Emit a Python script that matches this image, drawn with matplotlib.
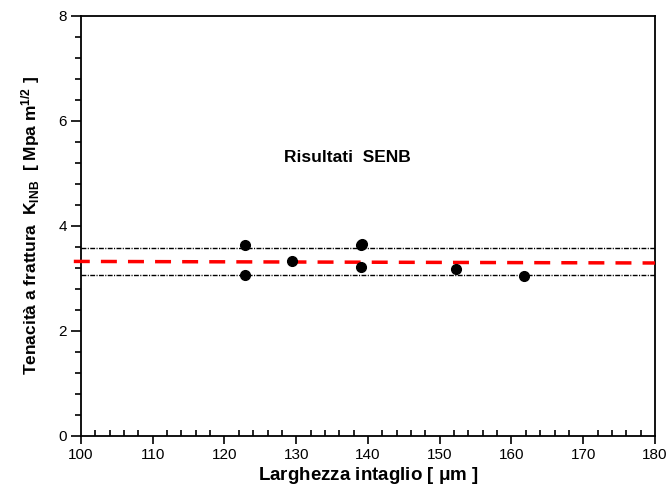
import matplotlib
matplotlib.use("Agg")
import matplotlib.pyplot as plt
from matplotlib.ticker import MultipleLocator

plt.rcParams["font.family"] = ["Liberation Sans", "DejaVu Sans"]
plt.rcParams["mathtext.fontset"] = "custom"
plt.rcParams["mathtext.rm"] = "Liberation Sans:bold"
plt.rcParams["mathtext.bf"] = "Liberation Sans:bold"
plt.rcParams["mathtext.default"] = "bf"

# notch width [um] vs fracture toughness [MPa m^1/2]
notch_width = [122.8, 122.8, 129.4, 139.0, 139.2, 139.0, 152.2, 161.7]
toughness = [3.63, 3.06, 3.33, 3.63, 3.65, 3.22, 3.17, 3.04]

# linear fit and scatter band
fit_x = [99.0, 180.0]
fit_y = [3.32, 3.29]
band_x = [100.0, 180.0]
band_upper = [3.58, 3.58]
band_lower = [3.07, 3.07]


def main():
    fig = plt.figure(figsize=(6.71, 4.92), dpi=100)
    ax = fig.add_axes([0.1207, 0.1148, 0.8554, 0.8527])

    ax.plot(band_x, band_upper, color="black", lw=1.0, dashes=(3.5, 1.0, 0.8, 1.0))
    ax.plot(band_x, band_lower, color="black", lw=1.0, dashes=(3.5, 1.0, 0.8, 1.0))
    ax.plot(fit_x, fit_y, color="#ff0000", lw=2.5, dashes=(4.6, 3.2), clip_on=False,
            solid_capstyle="butt", dash_capstyle="butt", zorder=3)
    ax.plot(notch_width, toughness, "o", color="black", ms=7, zorder=4)

    ax.set_xlim(100, 180)
    ax.set_ylim(0, 8)
    ax.xaxis.set_major_locator(MultipleLocator(10))
    ax.xaxis.set_minor_locator(MultipleLocator(2))
    ax.yaxis.set_major_locator(MultipleLocator(2))
    ax.yaxis.set_minor_locator(MultipleLocator(0.4))

    ax.tick_params(axis="x", which="major", direction="out", length=6, width=1.2, labelsize=11, pad=3)
    ax.tick_params(axis="x", which="minor", direction="in", length=4, width=1.2)
    ax.tick_params(axis="y", which="major", direction="out", length=7, width=1.2, labelsize=11, pad=3)
    ax.tick_params(axis="y", which="minor", direction="out", length=4, width=1.2)
    for spine in ax.spines.values():
        spine.set_linewidth(1.3)

    ax.set_xlabel(r"Larghezza intaglio [ $\mu$m ]", fontsize=13.5, fontweight="bold", labelpad=2)
    ax.set_ylabel(r"Tenacità a frattura  K$_{\mathrm{INB}}$  [ Mpa m$^{\mathrm{1/2}}$ ]",
                  fontsize=12.5, fontweight="bold", labelpad=12)
    ax.text(137.1, 5.31, "Risultati  SENB", fontsize=12.5, fontweight="bold",
            ha="center", va="center")

    fig.savefig("out.png", dpi=100)
    plt.close(fig)


if __name__ == "__main__":
    main()
